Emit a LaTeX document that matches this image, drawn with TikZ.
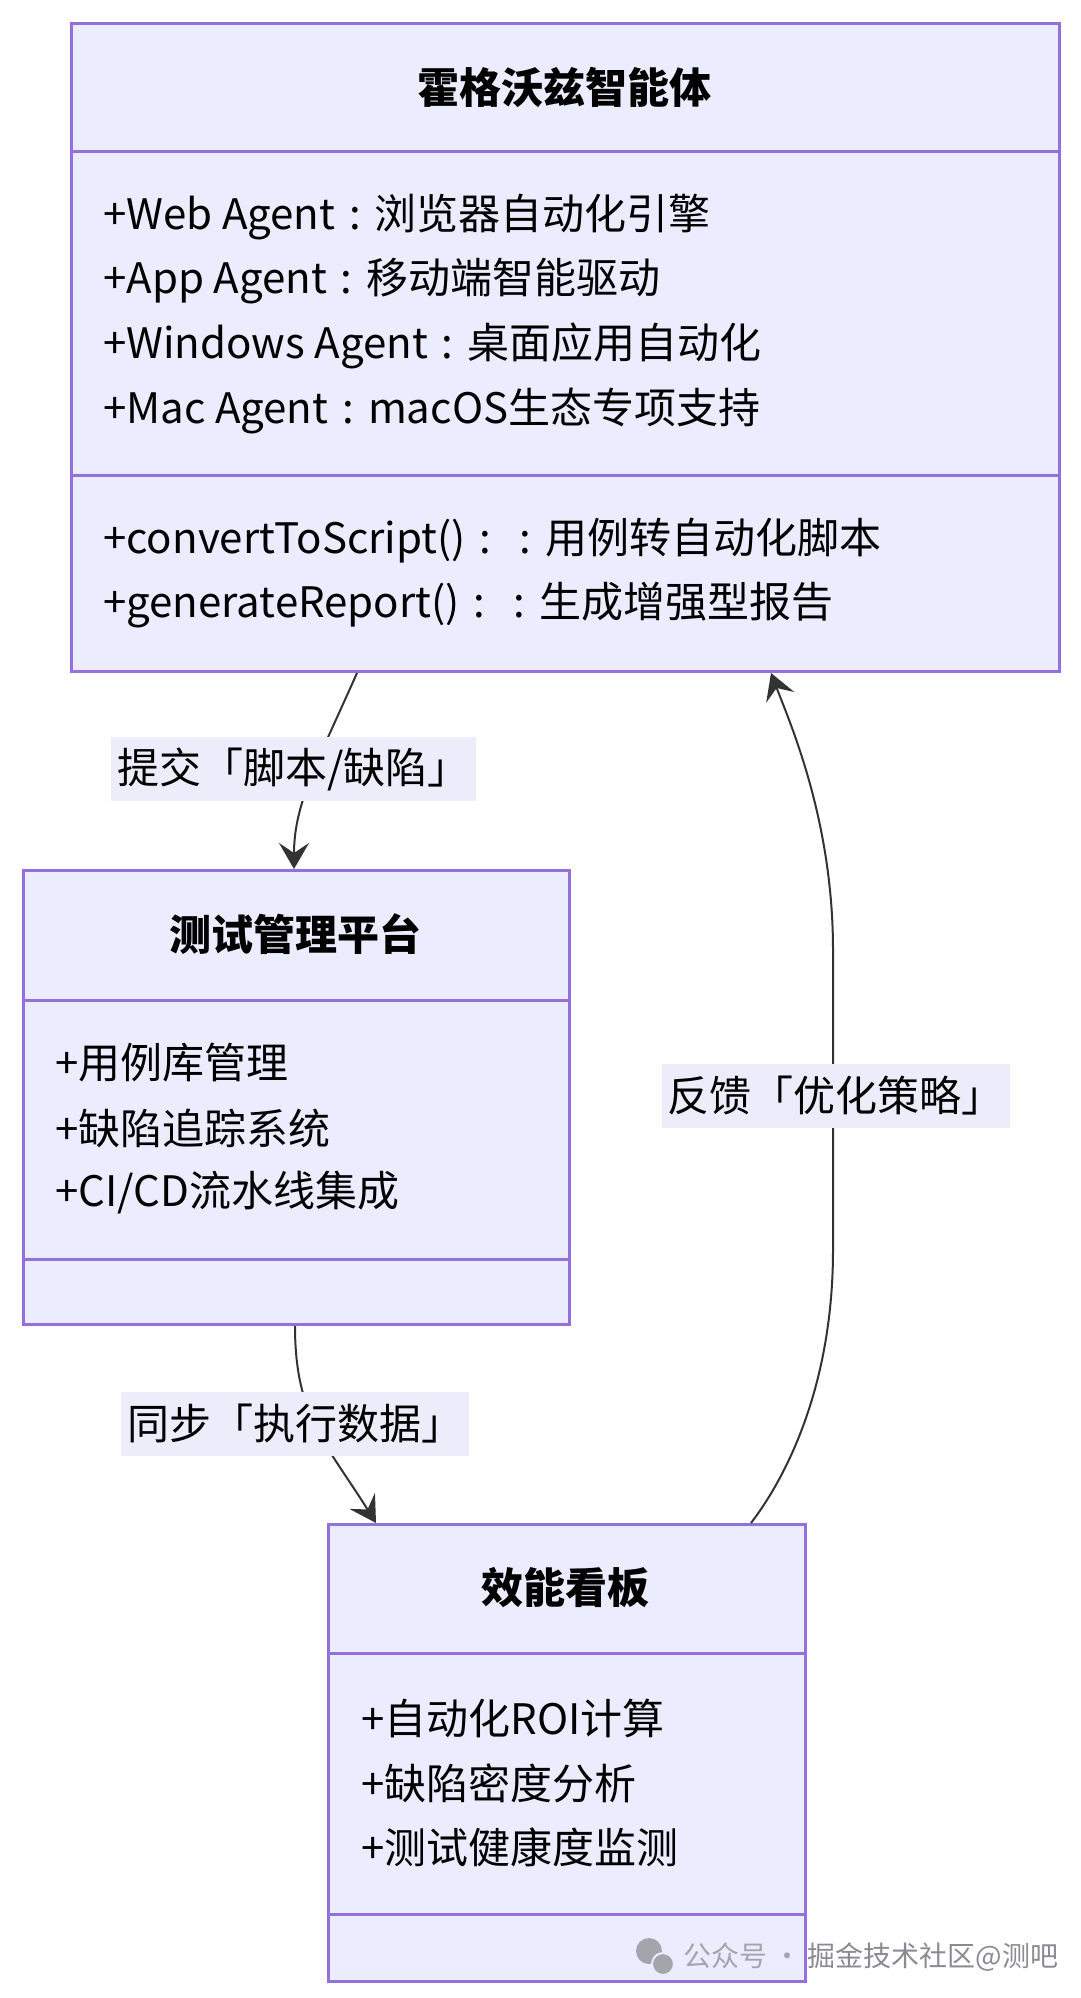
\documentclass[tikz,border=0pt]{standalone}
\usepackage{fontspec}
\setmainfont{Noto Sans CJK SC}
\usetikzlibrary{arrows.meta}
\definecolor{umlfill}{HTML}{ECECFF}
\definecolor{umlline}{HTML}{9370DB}
\definecolor{edgeline}{HTML}{333333}
\definecolor{labelfill}{HTML}{ECECFA}
\definecolor{markgray}{HTML}{A4A4AC}
\definecolor{markdark}{HTML}{8A8A92}
\newcommand{\boxfont}{\fontsize{42}{50}\selectfont}
\newcommand{\csep}{\hspace{14pt}:\hspace{14pt}}

\begin{document}
\begin{tikzpicture}[x=1pt,y=-1pt,
    umlbox/.style={draw=umlline,fill=umlfill,line width=3pt,inner sep=0pt,anchor=north west},
    divider/.style={draw=umlline,line width=3pt},
    boxtitle/.style={font=\boxfont\bfseries},
    member/.style={anchor=west,inner sep=0pt,font=\boxfont},
    edgelabel/.style={fill=labelfill,inner xsep=6pt,minimum height=64pt,font=\boxfont},
    link/.style={draw=edgeline,line width=2pt,-{Stealth[length=26pt,width=30pt,inset=10pt]}}]
    \useasboundingbox (0,0) rectangle (1080,1998);

    \node[umlbox,minimum width=988pt,minimum height=648pt] (agent) at (70,22) {};
    \draw[divider] ([yshift=-129pt]agent.north west) -- ([yshift=-129pt]agent.north east);
    \draw[divider] ([yshift=-453pt]agent.north west) -- ([yshift=-453pt]agent.north east);
    \node[boxtitle] (agenttitle) at (564,87) {霍格沃兹智能体};
    \node[member] (webagent) at (103,217) {+Web Agent\csep 浏览器自动化引擎};
    \node[member] (appagent) at (103,281) {+App Agent\csep 移动端智能驱动};
    \node[member] (winagent) at (103,346) {+Windows Agent\csep 桌面应用自动化};
    \node[member] (macagent) at (103,411) {+Mac Agent\csep macOS生态专项支持};
    \node[member] (convert) at (103,541) {+convertToScript()\csep\csep 用例转自动化脚本};
    \node[member] (report) at (103,605) {+generateReport()\csep\csep 生成增强型报告};

    \node[umlbox,minimum width=546pt,minimum height=454pt] (platform) at (22,869) {};
    \draw[divider] ([yshift=-131pt]platform.north west) -- ([yshift=-131pt]platform.north east);
    \draw[divider] ([yshift=-390pt]platform.north west) -- ([yshift=-390pt]platform.north east);
    \node[boxtitle] (platformtitle) at (295,934) {测试管理平台};
    \node[member] (caselib) at (55,1063) {+用例库管理};
    \node[member] (defects) at (55,1128) {+缺陷追踪系统};
    \node[member] (cicd) at (55,1193) {+CI/CD流水线集成};

    \node[umlbox,minimum width=477pt,minimum height=457pt] (board) at (327,1523) {};
    \draw[divider] ([yshift=-130pt]board.north west) -- ([yshift=-130pt]board.north east);
    \draw[divider] ([yshift=-391pt]board.north west) -- ([yshift=-391pt]board.north east);
    \node[boxtitle] (boardtitle) at (565.5,1588) {效能看板};
    \node[member] (roi) at (361,1718) {+自动化ROI计算};
    \node[member] (density) at (361,1783) {+缺陷密度分析};
    \node[member] (health) at (361,1847) {+测试健康度监测};

    \draw[link] ([xshift=287pt]agent.south west) .. controls +(-40,90) and +(0,-65) .. ([xshift=272pt]platform.north west);
    \draw[link] ([xshift=273pt]platform.south west) .. controls +(0,90) and +(-50,-80) .. ([xshift=49pt]board.north west);
    \draw[link] ([xshift=424pt]board.north west) .. controls +(39,-51) and +(0,130) .. (833,1250)
        -- ++(0,-300) .. controls +(0,-130) and +(19,50) .. ([xshift=701pt]agent.south west);

    \node[edgelabel] (submitlabel) at (293.5,769) {提交「脚本/缺陷」};
    \node[edgelabel] (synclabel) at (295,1423.5) {同步「执行数据」};
    \node[edgelabel] (feedbacklabel) at (835.5,1096) {反馈「优化策略」};

    \fill[markgray] (649,1951) circle (13pt);
    \fill[markgray,draw=umlfill,line width=2pt] (663,1964) circle (11pt);
    \node[anchor=west,inner sep=0pt,font=\fontsize{28}{32}\selectfont] (mark) at (683,1957)
        {\textcolor{markgray}{公众号 ·} \textcolor{markdark}{掘金技术社区@测吧}};
\end{tikzpicture}
\end{document}
